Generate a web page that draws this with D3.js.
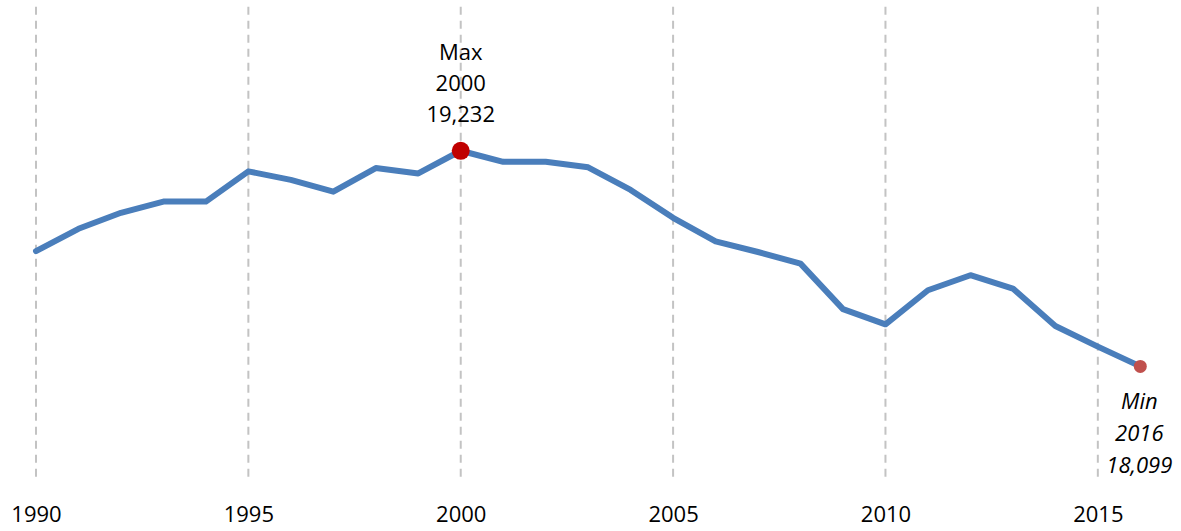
<!DOCTYPE html>
<html>
<head>
<meta charset="utf-8">
<script src="https://cdn.jsdelivr.net/npm/d3@7"></script>
<style>
  body { margin: 0; background: #fff; }
  svg text { font-family: "Open Sans", "Liberation Sans", sans-serif; fill: #000; }
</style>
</head>
<body>
<svg id="chart" width="1181" height="531"></svg>
<script>
/*
Data
*/
var years = d3.range(1990, 2017);
var values = [18705, 18822, 18906, 18965, 18965, 19124, 19079, 19017, 19141, 19113,
              19232, 19174, 19174, 19145, 19026, 18880, 18756, 18700, 18639, 18400,
              18320, 18499, 18578, 18508, 18311, 18203, 18099];
var tickYears = [1990, 1995, 2000, 2005, 2010, 2015];
var maxLabel = ["Max", "2000", "19,232"];
var minLabel = ["Min", "2016", "18,099"];

var svg = d3.select("#chart");

// Scales
var x = d3.scaleLinear().domain([1990, 2016]).range([36, 1140.3]);
var y = d3.scaleLinear().domain([17500, 20000]).range([480.4, 4.6]);

var data = years.map(function (d, i) { return { year: d, value: values[i] }; });

// Vertical dashed grid lines
svg.append("g")
    .selectAll("line")
    .data(tickYears)
    .enter().append("line")
    .attr("x1", function (d) { return x(d); })
    .attr("x2", function (d) { return x(d); })
    .attr("y1", 6.7)
    .attr("y2", 477)
    .attr("stroke", "#c3c3c3")
    .attr("stroke-width", 2)
    .attr("stroke-dasharray", "8,6");

// Bottom axis (labels only)
var axis = svg.append("g")
    .attr("transform", "translate(0,500)")
    .call(d3.axisBottom(x).tickValues(tickYears).tickFormat(d3.format("d")).tickSize(0));
axis.select(".domain").remove();
axis.selectAll("text")
    .attr("dy", 0)
    .attr("y", 22)
    .style("font-size", "22px")
    .style("font-family", "'Open Sans', sans-serif")
    .attr("fill", "#000");

// Line
var line = d3.line()
    .x(function (d) { return x(d.year); })
    .y(function (d) { return y(d.value); });

svg.append("path")
    .datum(data)
    .attr("d", line)
    .attr("fill", "none")
    .attr("stroke", "#4a7ebb")
    .attr("stroke-width", 6)
    .attr("stroke-linejoin", "round")
    .attr("stroke-linecap", "round");

// Max / min markers
var maxPt = data[d3.maxIndex(data, function (d) { return d.value; })];
var minPt = data[d3.minIndex(data, function (d) { return d.value; })];

svg.append("circle")
    .attr("cx", x(maxPt.year)).attr("cy", y(maxPt.value))
    .attr("r", 9).attr("fill", "#c00000");

svg.append("circle")
    .attr("cx", x(minPt.year)).attr("cy", y(minPt.value))
    .attr("r", 6.5).attr("fill", "#c0504d");

// Annotations
svg.append("g").selectAll("text")
    .data(maxLabel)
    .enter().append("text")
    .attr("x", x(maxPt.year))
    .attr("y", function (d, i) { return y(maxPt.value) - 91 + i * 31; })
    .attr("text-anchor", "middle")
    .style("font-size", "22px")
    .text(function (d) { return d; });

svg.append("g").selectAll("text")
    .data(minLabel)
    .enter().append("text")
    .attr("x", x(minPt.year) - 1)
    .attr("y", function (d, i) { return y(minPt.value) + 43 + i * 32; })
    .attr("text-anchor", "middle")
    .style("font-size", "22px")
    .style("font-style", "italic")
    .text(function (d) { return d; });
</script>
</body>
</html>
